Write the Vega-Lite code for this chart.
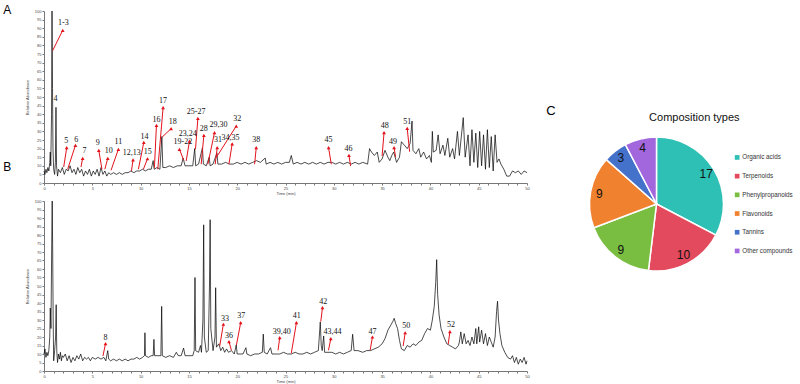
{
  "$schema": "https://vega.github.io/schema/vega-lite/v6.json",
  "background": "white",
  "padding": {"left": 3, "top": 3, "right": 0, "bottom": 0},
  "config": {
    "font": "Liberation Sans",
    "view": {"stroke": null},
    "axis": {"labelFontSize": 4, "titleFontSize": 4, "tickSize": 2, "labelPadding": 1, "domainColor": "#777", "tickColor": "#777", "labelColor": "#444", "titleColor": "#444", "grid": false, "titleFontWeight": "normal", "labelOverlap": false, "labelFlush": false, "labelFont": "Liberation Sans", "titleFont": "Liberation Sans"},
    "axisX": {"titlePadding": 1},
    "axisY": {"titlePadding": 5}
  },
  "datasets": {
    "traceA": [
      {"t":0.0,"v":7},{"t":0.1,"v":5},{"t":0.2,"v":8},{"t":0.3,"v":6},{"t":0.4,"v":9},{"t":0.5,"v":7},{"t":0.6,"v":12},{"t":0.65,"v":18},{"t":0.7,"v":10},{"t":0.78,"v":40},{"t":0.83,"v":100},{"t":0.88,"v":55},{"t":0.93,"v":20},{"t":1.0,"v":8},{"t":1.1,"v":5},{"t":1.18,"v":12},{"t":1.24,"v":44},{"t":1.3,"v":10},{"t":1.4,"v":4},{"t":1.5,"v":8},{"t":1.7,"v":6},{"t":1.9,"v":9},{"t":2.1,"v":5},{"t":2.3,"v":8},{"t":2.5,"v":7},{"t":2.7,"v":10},{"t":2.9,"v":6},{"t":3.1,"v":8},{"t":3.3,"v":5},{"t":3.5,"v":9},{"t":3.7,"v":6},{"t":3.9,"v":8},{"t":4.1,"v":4},{"t":4.3,"v":7},{"t":4.5,"v":5},{"t":4.7,"v":8},{"t":4.9,"v":4},{"t":5.1,"v":7},{"t":5.3,"v":5},{"t":5.5,"v":8},{"t":5.7,"v":4},{"t":5.9,"v":9},{"t":6.1,"v":5},{"t":6.3,"v":7},{"t":6.5,"v":4},{"t":6.7,"v":6},{"t":6.9,"v":5},{"t":7.2,"v":6},{"t":7.5,"v":5},{"t":7.8,"v":6},{"t":8.1,"v":5},{"t":8.4,"v":6},{"t":8.7,"v":6},{"t":9.0,"v":7},{"t":9.3,"v":6},{"t":9.6,"v":7},{"t":9.9,"v":7},{"t":10.2,"v":8},{"t":10.5,"v":7},{"t":10.8,"v":8},{"t":11.1,"v":8},{"t":11.3,"v":13},{"t":11.4,"v":8},{"t":11.7,"v":9},{"t":12.0,"v":8},{"t":12.2,"v":27},{"t":12.3,"v":9},{"t":12.6,"v":9},{"t":13.0,"v":10},{"t":13.4,"v":9},{"t":13.8,"v":10},{"t":14.2,"v":10},{"t":14.4,"v":14.5},{"t":14.6,"v":10},{"t":15.0,"v":10},{"t":15.4,"v":10},{"t":15.6,"v":20},{"t":15.7,"v":10},{"t":16.0,"v":11},{"t":16.4,"v":20.5},{"t":16.5,"v":11},{"t":16.8,"v":10},{"t":17.1,"v":15},{"t":17.2,"v":10},{"t":17.5,"v":11},{"t":17.9,"v":17.5},{"t":18.0,"v":11},{"t":18.4,"v":11},{"t":18.8,"v":12},{"t":19.2,"v":11},{"t":19.6,"v":11},{"t":20.0,"v":12},{"t":20.4,"v":11},{"t":20.8,"v":12},{"t":21.2,"v":11},{"t":21.6,"v":12},{"t":22.0,"v":13},{"t":22.4,"v":12},{"t":22.9,"v":14.5},{"t":23.0,"v":11},{"t":23.4,"v":12},{"t":23.8,"v":11},{"t":24.2,"v":12},{"t":24.6,"v":11},{"t":25.0,"v":12},{"t":25.4,"v":12},{"t":25.6,"v":16},{"t":25.8,"v":11},{"t":26.2,"v":12},{"t":26.6,"v":11},{"t":27.0,"v":12},{"t":27.4,"v":11},{"t":27.8,"v":12},{"t":28.2,"v":11},{"t":28.6,"v":12},{"t":29.0,"v":11},{"t":29.4,"v":12},{"t":29.8,"v":12},{"t":30.2,"v":11},{"t":30.6,"v":12},{"t":31.0,"v":11},{"t":31.4,"v":12},{"t":31.8,"v":11},{"t":32.2,"v":12},{"t":32.6,"v":11},{"t":33.0,"v":12},{"t":33.5,"v":11},{"t":33.7,"v":20},{"t":33.9,"v":18},{"t":34.2,"v":16},{"t":34.5,"v":18},{"t":34.7,"v":12},{"t":35.0,"v":14},{"t":35.3,"v":19},{"t":35.6,"v":15},{"t":35.8,"v":13},{"t":36.0,"v":16},{"t":36.2,"v":18},{"t":36.5,"v":12},{"t":36.8,"v":15},{"t":37.0,"v":24},{"t":37.3,"v":22},{"t":37.6,"v":20},{"t":37.9,"v":23},{"t":38.1,"v":36},{"t":38.2,"v":19},{"t":38.5,"v":17},{"t":38.8,"v":20},{"t":39.0,"v":15},{"t":39.3,"v":18},{"t":39.6,"v":14},{"t":39.9,"v":16},{"t":40.1,"v":12},{"t":40.2,"v":30},{"t":40.3,"v":18},{"t":40.6,"v":19},{"t":40.8,"v":28},{"t":41.0,"v":17},{"t":41.3,"v":22},{"t":41.5,"v":16},{"t":41.8,"v":26},{"t":42.0,"v":15},{"t":42.3,"v":20},{"t":42.5,"v":14},{"t":42.8,"v":30},{"t":43.0,"v":16},{"t":43.4,"v":38},{"t":43.6,"v":15},{"t":43.9,"v":28},{"t":44.1,"v":10},{"t":44.3,"v":31},{"t":44.5,"v":12},{"t":44.7,"v":29},{"t":44.9,"v":9},{"t":45.1,"v":30},{"t":45.3,"v":10},{"t":45.5,"v":28},{"t":45.7,"v":8},{"t":45.9,"v":31},{"t":46.1,"v":9},{"t":46.3,"v":27},{"t":46.5,"v":7},{"t":46.7,"v":28},{"t":46.9,"v":12},{"t":47.1,"v":14},{"t":47.3,"v":11},{"t":47.6,"v":8},{"t":47.9,"v":4},{"t":48.2,"v":4},{"t":48.5,"v":7},{"t":48.8,"v":6},{"t":49.1,"v":7},{"t":49.4,"v":5},{"t":49.7,"v":7},{"t":50.0,"v":6}
    ],
    "traceB": [
      {"t":0.0,"v":10},{"t":0.1,"v":13},{"t":0.2,"v":8},{"t":0.3,"v":11},{"t":0.4,"v":9},{"t":0.5,"v":12},{"t":0.6,"v":20},{"t":0.65,"v":37},{"t":0.72,"v":25},{"t":0.8,"v":75},{"t":0.85,"v":100},{"t":0.9,"v":70},{"t":0.95,"v":30},{"t":1.0,"v":6},{"t":1.1,"v":12},{"t":1.2,"v":20},{"t":1.26,"v":39},{"t":1.32,"v":12},{"t":1.4,"v":5},{"t":1.5,"v":10},{"t":1.6,"v":7},{"t":1.7,"v":11},{"t":1.8,"v":6},{"t":1.9,"v":9},{"t":2.0,"v":8},{"t":2.2,"v":10},{"t":2.4,"v":6},{"t":2.6,"v":9},{"t":2.8,"v":5},{"t":3.0,"v":8},{"t":3.2,"v":6},{"t":3.4,"v":9},{"t":3.6,"v":7},{"t":3.8,"v":10},{"t":4.0,"v":6},{"t":4.2,"v":8},{"t":4.4,"v":7},{"t":4.6,"v":8},{"t":4.8,"v":6},{"t":5.0,"v":8},{"t":5.3,"v":7},{"t":5.6,"v":8},{"t":5.9,"v":7},{"t":6.2,"v":8},{"t":6.4,"v":6},{"t":6.6,"v":12},{"t":6.7,"v":7},{"t":6.9,"v":6},{"t":7.2,"v":7},{"t":7.5,"v":6},{"t":7.8,"v":7},{"t":8.1,"v":6},{"t":8.4,"v":7},{"t":8.7,"v":6},{"t":9.0,"v":7},{"t":9.3,"v":7},{"t":9.6,"v":8},{"t":9.9,"v":7},{"t":10.2,"v":8},{"t":10.4,"v":9},{"t":10.45,"v":22.5},{"t":10.5,"v":9},{"t":10.8,"v":8},{"t":11.1,"v":9},{"t":11.3,"v":9},{"t":11.38,"v":18.6},{"t":11.45,"v":9},{"t":11.8,"v":9},{"t":12.1,"v":9},{"t":12.18,"v":38},{"t":12.25,"v":9},{"t":12.6,"v":8},{"t":13.0,"v":9},{"t":13.4,"v":8},{"t":13.7,"v":11},{"t":13.9,"v":9},{"t":14.2,"v":9},{"t":14.45,"v":13.5},{"t":14.6,"v":9},{"t":15.0,"v":9},{"t":15.4,"v":9},{"t":15.55,"v":12},{"t":15.63,"v":55},{"t":15.7,"v":12},{"t":16.0,"v":11},{"t":16.2,"v":15},{"t":16.3,"v":11},{"t":16.45,"v":30},{"t":16.53,"v":86},{"t":16.6,"v":20},{"t":16.8,"v":11},{"t":17.0,"v":12},{"t":17.13,"v":50},{"t":17.2,"v":89},{"t":17.27,"v":25},{"t":17.5,"v":12},{"t":17.7,"v":20},{"t":17.77,"v":49},{"t":17.85,"v":14},{"t":18.1,"v":16},{"t":18.3,"v":12},{"t":18.5,"v":14},{"t":18.7,"v":11},{"t":18.9,"v":13},{"t":19.1,"v":11},{"t":19.4,"v":12},{"t":19.7,"v":10},{"t":19.9,"v":15.3},{"t":20.0,"v":10},{"t":20.3,"v":10},{"t":20.6,"v":10},{"t":20.9,"v":13.7},{"t":21.0,"v":10},{"t":21.4,"v":9},{"t":21.8,"v":10},{"t":22.2,"v":10},{"t":22.6,"v":11},{"t":22.7,"v":21.7},{"t":22.8,"v":11},{"t":23.1,"v":10},{"t":23.45,"v":13.7},{"t":23.6,"v":10},{"t":24.0,"v":10},{"t":24.4,"v":10},{"t":24.8,"v":11},{"t":25.2,"v":10},{"t":25.6,"v":10},{"t":26.0,"v":11},{"t":26.4,"v":10},{"t":26.8,"v":10},{"t":27.2,"v":11},{"t":27.6,"v":10},{"t":28.0,"v":11},{"t":28.4,"v":12},{"t":28.6,"v":28.8},{"t":28.7,"v":15},{"t":28.8,"v":12},{"t":28.95,"v":20.6},{"t":29.05,"v":11},{"t":29.4,"v":11},{"t":29.8,"v":11},{"t":30.2,"v":10},{"t":30.6,"v":11},{"t":31.0,"v":10},{"t":31.4,"v":11},{"t":31.8,"v":12},{"t":31.95,"v":21.6},{"t":32.1,"v":12},{"t":32.5,"v":12},{"t":33.0,"v":11},{"t":33.4,"v":12},{"t":33.8,"v":12},{"t":34.2,"v":13},{"t":34.6,"v":14},{"t":35.0,"v":16},{"t":35.3,"v":19},{"t":35.6,"v":24},{"t":35.9,"v":27},{"t":36.1,"v":29},{"t":36.25,"v":31},{"t":36.4,"v":28},{"t":36.6,"v":25},{"t":36.8,"v":18},{"t":37.0,"v":13},{"t":37.3,"v":12},{"t":37.6,"v":15},{"t":37.9,"v":14},{"t":38.2,"v":16},{"t":38.5,"v":15},{"t":38.8,"v":17},{"t":39.1,"v":18},{"t":39.4,"v":22},{"t":39.7,"v":25},{"t":40.0,"v":24},{"t":40.2,"v":30},{"t":40.4,"v":38},{"t":40.55,"v":52},{"t":40.65,"v":65.5},{"t":40.75,"v":45},{"t":40.9,"v":33},{"t":41.1,"v":25},{"t":41.4,"v":20},{"t":41.7,"v":16},{"t":42.0,"v":15},{"t":42.3,"v":14},{"t":42.6,"v":13},{"t":42.9,"v":15},{"t":43.0,"v":17},{"t":43.15,"v":23},{"t":43.3,"v":16},{"t":43.5,"v":22},{"t":43.7,"v":16},{"t":43.9,"v":18},{"t":44.1,"v":15},{"t":44.3,"v":20},{"t":44.5,"v":16},{"t":44.7,"v":25},{"t":44.8,"v":16},{"t":45.0,"v":26},{"t":45.1,"v":17},{"t":45.3,"v":24},{"t":45.5,"v":16},{"t":45.7,"v":22},{"t":45.9,"v":15},{"t":46.1,"v":20},{"t":46.3,"v":17},{"t":46.5,"v":14},{"t":46.7,"v":20},{"t":46.85,"v":35},{"t":46.95,"v":41},{"t":47.05,"v":30},{"t":47.2,"v":22},{"t":47.4,"v":15},{"t":47.7,"v":11},{"t":48.0,"v":8},{"t":48.3,"v":7},{"t":48.5,"v":9},{"t":48.7,"v":5},{"t":48.9,"v":8},{"t":49.1,"v":4},{"t":49.3,"v":7},{"t":49.5,"v":5},{"t":49.7,"v":8},{"t":49.9,"v":4},{"t":50.0,"v":6}
    ],
    "annA": [
      {"id":"1-3","t1":0.9,"v1":77,"t2":1.94,"v2":88.8,"lt":2.0,"lv":93},
      {"id":"4","lt":1.2,"lv":48.6},
      {"id":"5","t1":2.04,"v1":9.3,"t2":2.35,"v2":20.5,"lt":2.3,"lv":24.4},
      {"id":"6","t1":2.45,"v1":8,"t2":3.25,"v2":21.9,"lt":3.35,"lv":25.2},
      {"id":"7","t1":3.83,"v1":9.3,"t2":4.0,"v2":14.3,"lt":4.18,"lv":18.6},
      {"id":"9","t1":6.0,"v1":8,"t2":5.67,"v2":19,"lt":5.56,"lv":23.3},
      {"id":"10","t1":6.3,"v1":8,"t2":6.6,"v2":14.3,"lt":6.7,"lv":18.6},
      {"id":"11","t1":6.94,"v1":7.4,"t2":7.7,"v2":19.6,"lt":7.7,"lv":23.6},
      {"id":"12,13","t1":9.05,"v1":7,"t2":9.22,"v2":13.5,"lt":9.09,"lv":17.6},
      {"id":"14","t1":9.77,"v1":8,"t2":10.33,"v2":23.6,"lt":10.4,"lv":26.7},
      {"id":"15","t1":10.29,"v1":8,"t2":10.71,"v2":14.1,"lt":10.74,"lv":18},
      {"id":"16","t1":11.43,"v1":8.9,"t2":11.64,"v2":33.5,"lt":11.64,"lv":36.8},
      {"id":"17","t1":11.78,"v1":8,"t2":12.33,"v2":43.8,"lt":12.33,"lv":47.7},
      {"id":"18","t1":12.23,"v1":26.7,"t2":13.16,"v2":31.6,"lt":13.34,"lv":35.5},
      {"id":"19-22","t1":14.47,"v1":13.2,"t2":14.02,"v2":19.6,"lt":14.37,"lv":23.8},
      {"id":"23,24","t1":14.72,"v1":12.8,"t2":15.06,"v2":24.4,"lt":14.89,"lv":28.3},
      {"id":"25-27","t1":15.68,"v1":19.6,"t2":15.93,"v2":37.6,"lt":15.75,"lv":41.5},
      {"id":"28","t1":16.27,"v1":10.9,"t2":16.55,"v2":27.7,"lt":16.55,"lv":31.6},
      {"id":"29,30","t1":16.96,"v1":10.9,"t2":17.65,"v2":29.3,"lt":18.06,"lv":33.5},
      {"id":"31","t1":17.72,"v1":10.9,"t2":17.93,"v2":20.5,"lt":18.0,"lv":24.8},
      {"id":"32","t1":17.82,"v1":14.7,"t2":19.9,"v2":33.1,"lt":20.0,"lv":37},
      {"id":"34,35","t1":19.14,"v1":10.9,"t2":19.48,"v2":22.8,"lt":19.3,"lv":26.3},
      {"id":"38","t1":21.8,"v1":10.9,"t2":21.97,"v2":20.5,"lt":21.97,"lv":24.8},
      {"id":"45","t1":29.74,"v1":10.9,"t2":29.46,"v2":20.5,"lt":29.46,"lv":24.8},
      {"id":"46","t1":31.74,"v1":9.9,"t2":31.57,"v2":16.1,"lt":31.53,"lv":20},
      {"id":"48","t1":35.0,"v1":15.7,"t2":35.2,"v2":29.3,"lt":35.27,"lv":33.1},
      {"id":"49","t1":36.4,"v1":15.1,"t2":36.24,"v2":20.5,"lt":36.13,"lv":24},
      {"id":"51","t1":37.85,"v1":18.2,"t2":37.6,"v2":31.8,"lt":37.6,"lv":35.5}
    ],
    "annB": [
      {"id":"8","t1":6.1,"v1":8.8,"t2":6.37,"v2":16.1,"lt":6.37,"lv":19.6},
      {"id":"33","t1":18.19,"v1":14.7,"t2":18.57,"v2":27.5,"lt":18.74,"lv":30.8},
      {"id":"36","t1":19.4,"v1":12.2,"t2":19.15,"v2":17.3,"lt":19.15,"lv":20.6},
      {"id":"37","t1":19.92,"v1":15.3,"t2":20.36,"v2":28.4,"lt":20.43,"lv":32.4},
      {"id":"39,40","t1":24.23,"v1":12.2,"t2":24.4,"v2":19.6,"lt":24.6,"lv":22.9},
      {"id":"41","t1":25.6,"v1":10.4,"t2":26.13,"v2":28.4,"lt":26.17,"lv":32.4},
      {"id":"42","t1":28.65,"v1":29,"t2":28.83,"v2":37.3,"lt":28.9,"lv":40.6},
      {"id":"43,44","t1":29.45,"v1":12.2,"t2":29.69,"v2":19,"lt":29.87,"lv":22.9},
      {"id":"47","t1":33.76,"v1":12.2,"t2":34.0,"v2":20,"lt":34.0,"lv":23.1},
      {"id":"50","t1":37.18,"v1":14.7,"t2":37.39,"v2":22.5,"lt":37.5,"lv":26.3},
      {"id":"52","t1":41.84,"v1":15.7,"t2":42.02,"v2":23.1,"lt":42.12,"lv":27.1}
    ],
    "pie": [
      {"type":"Organic acids","count":17,"rank":1},
      {"type":"Terpenoids","count":10,"rank":2},
      {"type":"Phenylpropanoids","count":9,"rank":3},
      {"type":"Flavonoids","count":9,"rank":4},
      {"type":"Tannins","count":3,"rank":5},
      {"type":"Other compounds","count":4,"rank":6}
    ]
  },
  "hconcat": [
    {
      "vconcat": [
        {
          "width": 483, "height": 172,
          "title": {"text": "A", "orient": "left", "anchor": "end", "angle": 0, "align": "right", "baseline": "top", "fontSize": 12, "fontWeight": "normal", "font": "Liberation Sans", "color": "#000", "offset": 6, "dy": -4.5},
          "layer": [
            {
              "data": {"name": "traceA"},
              "mark": {"type": "line", "color": "#000", "strokeWidth": 0.7},
              "encoding": {
                "x": {"field": "t", "type": "quantitative", "scale": {"domain": [0, 50], "nice": false}, "axis": {"title": "Time (min)", "values": [0,1,2,3,4,5,6,7,8,9,10,11,12,13,14,15,16,17,18,19,20,21,22,23,24,25,26,27,28,29,30,31,32,33,34,35,36,37,38,39,40,41,42,43,44,45,46,47,48,49,50], "labelExpr": "datum.value % 5 === 0 ? datum.label : ''"}},
                "y": {"field": "v", "type": "quantitative", "scale": {"domain": [0, 100], "nice": false}, "axis": {"title": "Relative Abundance", "values": [0,5,10,15,20,25,30,35,40,45,50,55,60,65,70,75,80,85,90,95,100]}}
              }
            },
            {
              "data": {"name": "annA"},
              "mark": {"type": "rule", "color": "#E3121B", "strokeWidth": 1},
              "encoding": {
                "x": {"field": "t1", "type": "quantitative", "scale": {"domain": [0, 50], "nice": false}, "axis": {"title": "Time (min)", "values": [0,1,2,3,4,5,6,7,8,9,10,11,12,13,14,15,16,17,18,19,20,21,22,23,24,25,26,27,28,29,30,31,32,33,34,35,36,37,38,39,40,41,42,43,44,45,46,47,48,49,50], "labelExpr": "datum.value % 5 === 0 ? datum.label : ''"}},
                "y": {"field": "v1", "type": "quantitative", "scale": {"domain": [0, 100], "nice": false}, "axis": {"title": "Relative Abundance", "values": [0,5,10,15,20,25,30,35,40,45,50,55,60,65,70,75,80,85,90,95,100]}},
                "x2": {"field": "t2"},
                "y2": {"field": "v2"}
              }
            },
            {
              "data": {"name": "annA"},
              "mark": {"type": "point", "shape": "triangle-up", "filled": true, "color": "#E3121B", "size": 14, "opacity": 1},
              "encoding": {
                "x": {"field": "t2", "type": "quantitative", "scale": {"domain": [0, 50], "nice": false}, "axis": {"title": "Time (min)", "values": [0,1,2,3,4,5,6,7,8,9,10,11,12,13,14,15,16,17,18,19,20,21,22,23,24,25,26,27,28,29,30,31,32,33,34,35,36,37,38,39,40,41,42,43,44,45,46,47,48,49,50], "labelExpr": "datum.value % 5 === 0 ? datum.label : ''"}},
                "y": {"field": "v2", "type": "quantitative", "scale": {"domain": [0, 100], "nice": false}, "axis": {"title": "Relative Abundance", "values": [0,5,10,15,20,25,30,35,40,45,50,55,60,65,70,75,80,85,90,95,100]}}
              }
            },
            {
              "data": {"name": "annA"},
              "mark": {"type": "text", "font": "Liberation Serif", "fontSize": 8, "color": "#111"},
              "encoding": {
                "x": {"field": "lt", "type": "quantitative", "scale": {"domain": [0, 50], "nice": false}, "axis": {"title": "Time (min)", "values": [0,1,2,3,4,5,6,7,8,9,10,11,12,13,14,15,16,17,18,19,20,21,22,23,24,25,26,27,28,29,30,31,32,33,34,35,36,37,38,39,40,41,42,43,44,45,46,47,48,49,50], "labelExpr": "datum.value % 5 === 0 ? datum.label : ''"}},
                "y": {"field": "lv", "type": "quantitative", "scale": {"domain": [0, 100], "nice": false}, "axis": {"title": "Relative Abundance", "values": [0,5,10,15,20,25,30,35,40,45,50,55,60,65,70,75,80,85,90,95,100]}},
                "text": {"field": "id"}
              }
            }
          ]
        },
        {
          "width": 483, "height": 170,
          "title": {"text": "B", "orient": "left", "anchor": "end", "angle": 0, "align": "right", "baseline": "top", "fontSize": 12, "fontWeight": "normal", "font": "Liberation Sans", "color": "#000", "offset": 6, "dy": -37},
          "layer": [
            {
              "data": {"name": "traceB"},
              "mark": {"type": "line", "color": "#000", "strokeWidth": 0.7},
              "encoding": {
                "x": {"field": "t", "type": "quantitative", "scale": {"domain": [0, 50], "nice": false}, "axis": {"title": "Time (min)", "values": [0,1,2,3,4,5,6,7,8,9,10,11,12,13,14,15,16,17,18,19,20,21,22,23,24,25,26,27,28,29,30,31,32,33,34,35,36,37,38,39,40,41,42,43,44,45,46,47,48,49,50], "labelExpr": "datum.value % 5 === 0 ? datum.label : ''"}},
                "y": {"field": "v", "type": "quantitative", "scale": {"domain": [0, 100], "nice": false}, "axis": {"title": "Relative Abundance", "values": [0,5,10,15,20,25,30,35,40,45,50,55,60,65,70,75,80,85,90,95,100]}}
              }
            },
            {
              "data": {"name": "annB"},
              "mark": {"type": "rule", "color": "#E3121B", "strokeWidth": 1},
              "encoding": {
                "x": {"field": "t1", "type": "quantitative", "scale": {"domain": [0, 50], "nice": false}, "axis": {"title": "Time (min)", "values": [0,1,2,3,4,5,6,7,8,9,10,11,12,13,14,15,16,17,18,19,20,21,22,23,24,25,26,27,28,29,30,31,32,33,34,35,36,37,38,39,40,41,42,43,44,45,46,47,48,49,50], "labelExpr": "datum.value % 5 === 0 ? datum.label : ''"}},
                "y": {"field": "v1", "type": "quantitative", "scale": {"domain": [0, 100], "nice": false}, "axis": {"title": "Relative Abundance", "values": [0,5,10,15,20,25,30,35,40,45,50,55,60,65,70,75,80,85,90,95,100]}},
                "x2": {"field": "t2"},
                "y2": {"field": "v2"}
              }
            },
            {
              "data": {"name": "annB"},
              "mark": {"type": "point", "shape": "triangle-up", "filled": true, "color": "#E3121B", "size": 14, "opacity": 1},
              "encoding": {
                "x": {"field": "t2", "type": "quantitative", "scale": {"domain": [0, 50], "nice": false}, "axis": {"title": "Time (min)", "values": [0,1,2,3,4,5,6,7,8,9,10,11,12,13,14,15,16,17,18,19,20,21,22,23,24,25,26,27,28,29,30,31,32,33,34,35,36,37,38,39,40,41,42,43,44,45,46,47,48,49,50], "labelExpr": "datum.value % 5 === 0 ? datum.label : ''"}},
                "y": {"field": "v2", "type": "quantitative", "scale": {"domain": [0, 100], "nice": false}, "axis": {"title": "Relative Abundance", "values": [0,5,10,15,20,25,30,35,40,45,50,55,60,65,70,75,80,85,90,95,100]}}
              }
            },
            {
              "data": {"name": "annB"},
              "mark": {"type": "text", "font": "Liberation Serif", "fontSize": 8, "color": "#111"},
              "encoding": {
                "x": {"field": "lt", "type": "quantitative", "scale": {"domain": [0, 50], "nice": false}, "axis": {"title": "Time (min)", "values": [0,1,2,3,4,5,6,7,8,9,10,11,12,13,14,15,16,17,18,19,20,21,22,23,24,25,26,27,28,29,30,31,32,33,34,35,36,37,38,39,40,41,42,43,44,45,46,47,48,49,50], "labelExpr": "datum.value % 5 === 0 ? datum.label : ''"}},
                "y": {"field": "lv", "type": "quantitative", "scale": {"domain": [0, 100], "nice": false}, "axis": {"title": "Relative Abundance", "values": [0,5,10,15,20,25,30,35,40,45,50,55,60,65,70,75,80,85,90,95,100]}},
                "text": {"field": "id"}
              }
            }
          ]
        }
      ],
      "bounds": "flush",
      "spacing": 18
    },
    {
      "title": {"text": "Composition types", "fontSize": 11, "font": "Liberation Sans", "fontWeight": "normal", "color": "#111", "anchor": "middle", "frame": "bounds", "offset": -112, "dx": 58},
      "vconcat": [
        {
          "width": 134, "height": 386,
          "data": {"name": "pie"},
          "title": {"text": "C", "orient": "left", "anchor": "end", "angle": 0, "align": "right", "baseline": "top", "fontSize": 13, "fontWeight": "normal", "font": "Liberation Sans", "color": "#000", "offset": 21.5, "dy": 94},
          "encoding": {
            "theta": {"field": "count", "type": "quantitative", "stack": true},
            "order": {"field": "rank", "type": "quantitative"},
            "color": {"field": "type", "type": "nominal",
              "scale": {"domain": ["Organic acids", "Terpenoids", "Phenylpropanoids", "Flavonoids", "Tannins", "Other compounds"], "range": ["#2EC0B4", "#E34A5D", "#79BE41", "#EF812F", "#4472CB", "#A266DD"]},
              "legend": {"title": null, "orient": "none", "legendX": 690, "legendY": 143.3, "symbolType": "square", "symbolSize": 22, "symbolStrokeWidth": 0, "labelFontSize": 6.3, "labelFont": "Liberation Sans", "labelColor": "#333", "rowPadding": 11.7, "labelOffset": 2, "padding": 0}}
          },
          "layer": [
            {"mark": {"type": "arc", "outerRadius": 67, "stroke": "white", "strokeWidth": 1.5}},
            {"mark": {"type": "text", "radius": 58, "fontSize": 12, "font": "Liberation Sans"},
             "encoding": {"text": {"field": "count", "type": "quantitative"}, "color": {"value": "#111"}}}
          ]
        }
      ]
    }
  ],
  "spacing": 15.5
}
